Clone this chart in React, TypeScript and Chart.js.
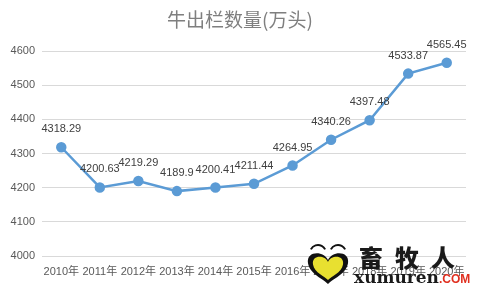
import React, { useEffect, useRef } from "react";
import { Chart, registerables } from "chart.js";

Chart.register(...registerables);

const title = "牛出栏数量(万头)";
const categories = ["2010年", "2011年", "2012年", "2013年", "2014年", "2015年", "2016年", "2017年", "2018年", "2019年", "2020年"];
const values = [4318.29, 4200.63, 4219.29, 4189.9, 4200.41, 4211.44, 4264.95, 4340.26, 4397.48, 4533.87, 4565.45];
const labels = ["4318.29", "4200.63", "4219.29", "4189.9", "4200.41", "4211.44", "4264.95", "4340.26", "4397.48", "4533.87", "4565.45"];
const yMin = 4000;
const yMax = 4600;
const yStep = 100;

const FONT = "'Liberation Sans', 'Noto Sans CJK SC', sans-serif";

const overlayPlugin = {
  id: "overlay",
  afterDatasetsDraw(chart: any) {
    const ctx = chart.ctx;
    const meta = chart.getDatasetMeta(0);
    ctx.save();
    ctx.font = `11px ${FONT}`;
    ctx.fillStyle = "#404040";
    ctx.textAlign = "center";
    ctx.textBaseline = "middle";
    meta.data.forEach((pt: any, i: number) => {
      ctx.fillText(labels[i], pt.x, pt.y - 18);
    });
    ctx.restore();
  },
  afterDraw(chart: any) {
    const ctx = chart.ctx;
    ctx.save();
    ctx.font = `19px 'Noto Sans CJK SC', sans-serif`;
    ctx.fillStyle = "#7f7f7f";
    ctx.textAlign = "center";
    ctx.textBaseline = "middle";
    ctx.fillText(title, 240, 20);
    ctx.restore();
    // watermark heart logo
    ctx.save();
    const cx = 328;
    const top = 252;
    const drawHeart = (w: number, h: number, oy: number) => {
      ctx.beginPath();
      ctx.moveTo(cx, top + oy + h * 0.25);
      ctx.bezierCurveTo(cx - w * 0.1, top + oy - h * 0.05, cx - w * 0.55, top + oy - h * 0.05, cx - w * 0.5, top + oy + h * 0.35);
      ctx.bezierCurveTo(cx - w * 0.45, top + oy + h * 0.7, cx - w * 0.1, top + oy + h * 0.85, cx, top + oy + h);
      ctx.bezierCurveTo(cx + w * 0.1, top + oy + h * 0.85, cx + w * 0.45, top + oy + h * 0.7, cx + w * 0.5, top + oy + h * 0.35);
      ctx.bezierCurveTo(cx + w * 0.55, top + oy - h * 0.05, cx + w * 0.1, top + oy - h * 0.05, cx, top + oy + h * 0.25);
      ctx.closePath();
    };
    drawHeart(40, 32, 0);
    ctx.fillStyle = "#111";
    ctx.fill();
    drawHeart(30, 24, 4);
    ctx.fillStyle = "#e8e030";
    ctx.fill();
    ctx.strokeStyle = "#111";
    ctx.lineWidth = 2;
    ctx.beginPath();
    ctx.arc(318, 253, 8, Math.PI * 1.15, Math.PI * 1.85);
    ctx.stroke();
    ctx.beginPath();
    ctx.arc(338, 253, 8, Math.PI * 1.15, Math.PI * 1.85);
    ctx.stroke();
    ctx.restore();
  },
};

export default function App() {
  const ref = useRef<HTMLCanvasElement>(null);
  useEffect(() => {
    document.body.style.margin = "0";
    const chart = new Chart(ref.current!, {
      type: "line",
      data: {
        labels: categories,
        datasets: [
          {
            data: values,
            borderColor: "#5B9BD5",
            backgroundColor: "#5B9BD5",
            borderWidth: 2.5,
            pointRadius: 4,
            pointBackgroundColor: "#5B9BD5",
            pointBorderColor: "#5B9BD5",
            tension: 0,
          },
        ],
      },
      options: {
        animation: false,
        responsive: false,
        maintainAspectRatio: false,
        layout: { padding: { top: 51, right: 14, left: 0, bottom: 0 } },
        plugins: { legend: { display: false }, tooltip: { enabled: false }, title: { display: false } },
        scales: {
          x: {
            offset: true,
            grid: { display: false },
            border: { display: false },
            ticks: {
              color: "#595959",
              font: { size: 11, family: FONT },
              maxRotation: 0,
              autoSkip: false,
              padding: 1,
            },
            afterFit(scale: any) {
              scale.height = 32;
            },
          },
          y: {
            min: yMin,
            max: yMax,
            grid: { color: "#d9d9d9", drawTicks: false },
            border: { display: false },
            ticks: {
              stepSize: yStep,
              color: "#595959",
              font: { size: 11, family: FONT },
              padding: 7,
              callback: (v: any) => String(v),
            },
            afterFit(scale: any) {
              scale.width = 42;
            },
          },
        },
      },
      plugins: [overlayPlugin],
    });
    return () => chart.destroy();
  }, []);
  return (
    <div style={{ position: "relative", width: 480, height: 288, background: "#fff" }}>
      <canvas ref={ref} width={480} height={288} style={{ display: "block" }} />
      <div
        style={{
          position: "absolute",
          left: 359,
          top: 244,
          fontFamily: "'Noto Sans CJK SC', sans-serif",
          fontWeight: 900,
          fontSize: 24,
          color: "#1a1a1a",
          letterSpacing: 12,
          lineHeight: "26px",
          whiteSpace: "nowrap",
        }}
      >
        畜牧人
      </div>
      <div
        style={{
          position: "absolute",
          left: 354,
          top: 267,
          fontFamily: "'DejaVu Serif', serif",
          fontWeight: 700,
          fontSize: 17,
          color: "#1a1a1a",
          lineHeight: "20px",
          whiteSpace: "nowrap",
        }}
      >
        xumuren<span style={{ color: "#e03020", fontSize: 12, fontFamily: "'Liberation Sans', sans-serif" }}>.COM</span>
      </div>
    </div>
  );
}
